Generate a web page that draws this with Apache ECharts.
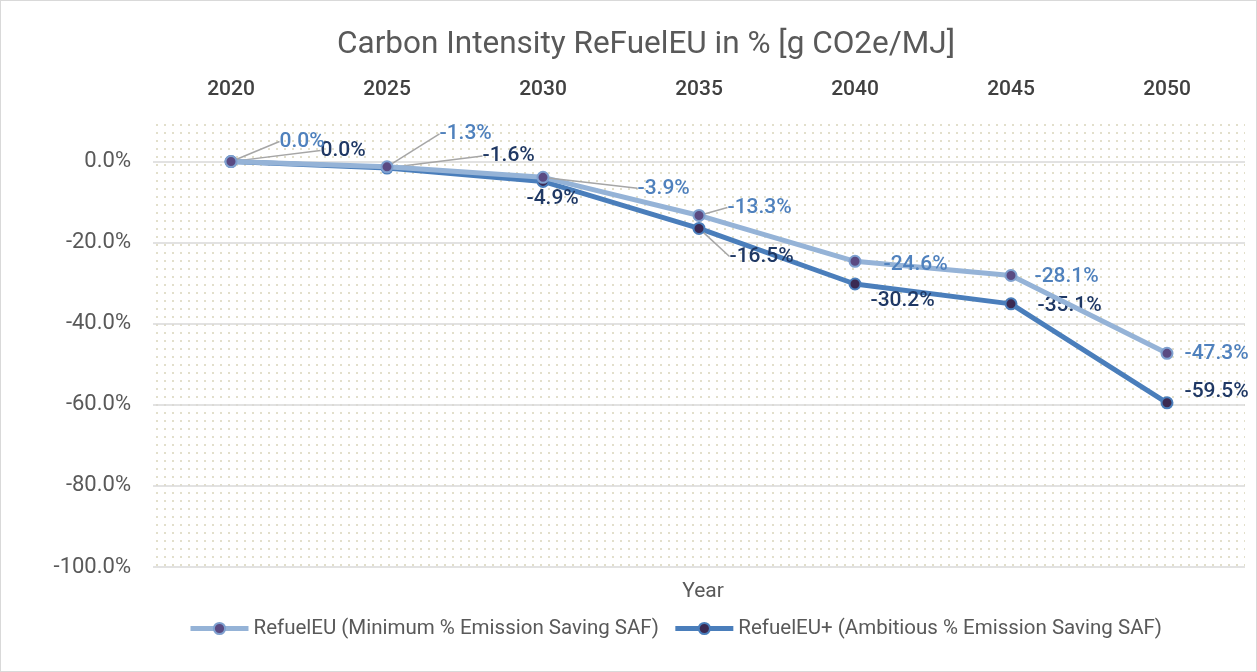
<!DOCTYPE html>
<html>
<head>
<meta charset="utf-8">
<script src="https://cdn.jsdelivr.net/npm/echarts@6/dist/echarts.min.js"></script>
<style>
  html, body { margin: 0; padding: 0; background: #fff; }
  #main { position: absolute; left: 0; top: 0; width: 1255px; height: 670px; border: 1px solid #d9d9d9; }
</style>
</head>
<body>
<div id="main"></div>
<script type="text/javascript">
var years = ['2020', '2025', '2030', '2035', '2040', '2045', '2050'];
var refuelEU = [0.0, -1.3, -3.9, -13.3, -24.6, -28.1, -47.3];
var refuelEUPlus = [0.0, -1.6, -4.9, -16.5, -30.2, -35.1, -59.5];

// label nudges (dx, dy) and whether a leader line is drawn
var shift1 = [[37, -20], [41, -33], [83, 11], [17, -8], [17, 3], [12, 1], [6, 0]];
var lead1 = [true, true, true, true, false, false, false];
var shift2 = [[78, -11], [84, -12], [-28, 17], [19, 28], [4, 17], [15, 2], [6, -11]];
var lead2 = [true, true, false, true, false, false, false];

var font = 'Roboto, "DejaVu Sans", sans-serif';

// dotted plot background
var dots = document.createElement('canvas');
dots.width = 8; dots.height = 8;
var ctx = dots.getContext('2d');
ctx.fillStyle = '#e2dfcb';
ctx.fillRect(3, 3, 2, 2);

function items(vals, lead) {
    return vals.map(function (v, i) {
        return { value: v, labelLine: { show: lead[i] } };
    });
}

var myChart = echarts.init(document.getElementById('main'));
myChart.setOption({
    animation: false,
    title: [{
        text: 'Carbon Intensity ReFuelEU in % [g CO2e/MJ]',
        left: 640, textAlign: 'center',
        top: 23,
        textStyle: { fontFamily: font, fontSize: 31.5, fontWeight: 'normal', color: '#595959' }
    }, {
        text: 'Year',
        left: 697, textAlign: 'center',
        top: 575,
        textStyle: { fontFamily: font, fontSize: 21, fontWeight: 'normal', color: '#595959' }
    }],
    grid: {
        left: 152, width: 1092, top: 120, bottom: 104,
        show: true, borderWidth: 0,
        backgroundColor: { image: dots, repeat: 'repeat' }
    },
    legend: {
        bottom: 27,
        left: 182,
        itemWidth: 58, itemHeight: 14, itemGap: 14,
        lineStyle: { width: 5 },
        textStyle: { fontFamily: font, fontSize: 20.5, color: '#595959' },
        data: ['RefuelEU (Minimum % Emission Saving SAF)', 'RefuelEU+ (Ambitious % Emission Saving SAF)']
    },
    xAxis: {
        type: 'category',
        position: 'top',
        data: years,
        axisLine: { show: false },
        axisTick: { show: false },
        axisLabel: { fontFamily: font, fontSize: 21, fontWeight: 500, color: '#404040', margin: 21 }
    },
    yAxis: {
        type: 'value',
        min: -100, max: 10, interval: 20,
        axisLine: { show: false },
        axisTick: { show: false },
        axisLabel: {
            fontFamily: font, fontSize: 22, color: '#595959', margin: 22,
            formatter: function (v) { return v > 0 ? '' : v.toFixed(1) + '%'; }
        },
        splitLine: { lineStyle: { color: ['#d9d9d9', '#d9d9d9', '#d9d9d9', '#d9d9d9', '#d9d9d9', '#d9d9d9', 'rgba(0,0,0,0)'], width: 1.5 } }
    },
    series: [{
        name: 'RefuelEU (Minimum % Emission Saving SAF)',
        type: 'line',
        data: items(refuelEU, lead1),
        symbol: 'circle', symbolSize: 11,
        lineStyle: { color: '#95b3d7', width: 5 },
        itemStyle: { color: '#5a4a82', borderColor: '#7fa0cf', borderWidth: 2 },
        label: {
            show: true, position: 'right', fontFamily: font, fontSize: 21, fontWeight: 500, color: '#4f81bd',
            formatter: function (p) { return p.value.toFixed(1) + '%'; }
        },
        labelLine: { lineStyle: { color: '#a6a6a6', width: 1.5 } },
        labelLayout: function (p) { return { dx: shift1[p.dataIndex][0], dy: shift1[p.dataIndex][1] }; },
        z: 3
    }, {
        name: 'RefuelEU+ (Ambitious % Emission Saving SAF)',
        type: 'line',
        data: items(refuelEUPlus, lead2),
        symbol: 'circle', symbolSize: 11,
        lineStyle: { color: '#4a7ebb', width: 5 },
        itemStyle: { color: '#3a2a52', borderColor: '#4a7ebb', borderWidth: 2 },
        label: {
            show: true, position: 'right', fontFamily: font, fontSize: 21, fontWeight: 500, color: '#1f3864',
            formatter: function (p) { return p.value.toFixed(1) + '%'; }
        },
        labelLine: { lineStyle: { color: '#a6a6a6', width: 1.5 } },
        labelLayout: function (p) { return { dx: shift2[p.dataIndex][0], dy: shift2[p.dataIndex][1] }; },
        z: 2
    }]
});
</script>
</body>
</html>
